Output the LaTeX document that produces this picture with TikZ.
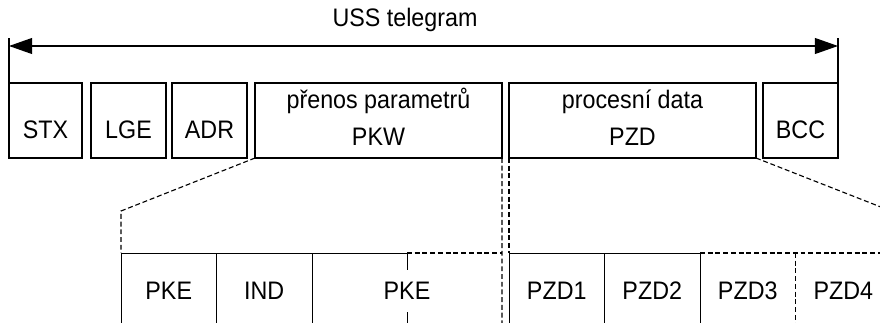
\documentclass[tikz,border=0pt]{standalone}
\usepackage{fontspec}
\setmainfont{Liberation Sans}[FakeStretch=0.92]
\usetikzlibrary{arrows.meta}

\begin{document}
\begin{tikzpicture}[x=0.025cm, y=-0.025cm,
	every node/.style={font=\fontsize{18}{26.3}\selectfont, inner sep=0pt, outer sep=0pt},
	>={Triangle[length=5.8mm, width=4mm]},
	field/.style={draw, line width=0.9pt, minimum width=#1*0.025cm, minimum height=1.875cm, align=center, text height=0.875cm, text depth=0pt},
	twoline/.style={text height=1.225cm, text depth=0pt},
	cell/.style={minimum width=#1*0.025cm, minimum height=1.9cm},
	rule/.style={line width=0.7pt},
	guide/.style={line width=0.8pt, dash pattern=on 3.5pt off 2pt}]
	\clip (0,0) rectangle (880,322);
	% telegram
	\node (uss) at (405,20) {USS telegram};
	\node[field=73] (stx) at (45.5,120.5) {STX};
	\node[field=75] (lge) at (128.5,120.5) {LGE};
	\node[field=75] (adr) at (209.5,120.5) {ADR};
	\node[field=247, twoline] (pkw) at (378.5,120.5) {přenos parametrů\\PKW};
	\node[field=247, twoline] (pzd) at (632.5,120.5) {procesní data\\PZD};
	\node[field=75] (bcc) at (800.5,120.5) {BCC};
	\coordinate (ussL) at (9,46);
	\coordinate (ussR) at (838,46);
	\draw[line width=0.8pt] (stx.north west) -- ++(0,-45);
	\draw[line width=0.8pt] (bcc.north east) -- ++(0,-45);
	\draw[line width=0.8pt, <->] (ussL) -- (ussR);
	% detail
	\node[cell=95.5, draw, rule] (pke) at (168.75,291) {PKE};
	\node[cell=95.5, draw, rule] (ind) at (264.25,291) {IND};
	\node[cell=190] (pkeb) at (407,291) {};
	\node[cell=95.5, draw, rule] (pzd1) at (556.75,291) {PZD1};
	\node[cell=95.5, draw, rule] (pzd2) at (652.25,291) {PZD2};
	\node[cell=95.5] (pzd3) at (747.75,291) {PZD3};
	\node[cell=95.5] (pzd4) at (843.25,291) {PZD4};
	\draw[rule] (pkeb.north west) -- (pkeb.north) -- (pkeb.south);
	\node[fill=white, inner ysep=9pt, inner xsep=2pt] (pketext) at (pkeb) {PKE};
	\draw[guide] (pkeb.north) -- (pkeb.north east);
	\draw[guide] (pzd3.north west) -- (pzd4.north east);
	\draw[guide] (pzd3.north east) -- (pzd3.south east);
	\coordinate (kneeL) at (121,211);
	\coordinate (kneeR) at (891,211);
	\draw[guide] (pkw.south west) -- (kneeL) -- (pke.north west);
	\draw[guide] (pkw.south east) -- (pkeb.south east);
	\draw[guide] (pzd.south west) -- (pzd1.north west);
	\draw[guide] (pzd.south east) -- (kneeR) -- (pzd4.north east) -- (pzd4.south east);
\end{tikzpicture}
\end{document}
